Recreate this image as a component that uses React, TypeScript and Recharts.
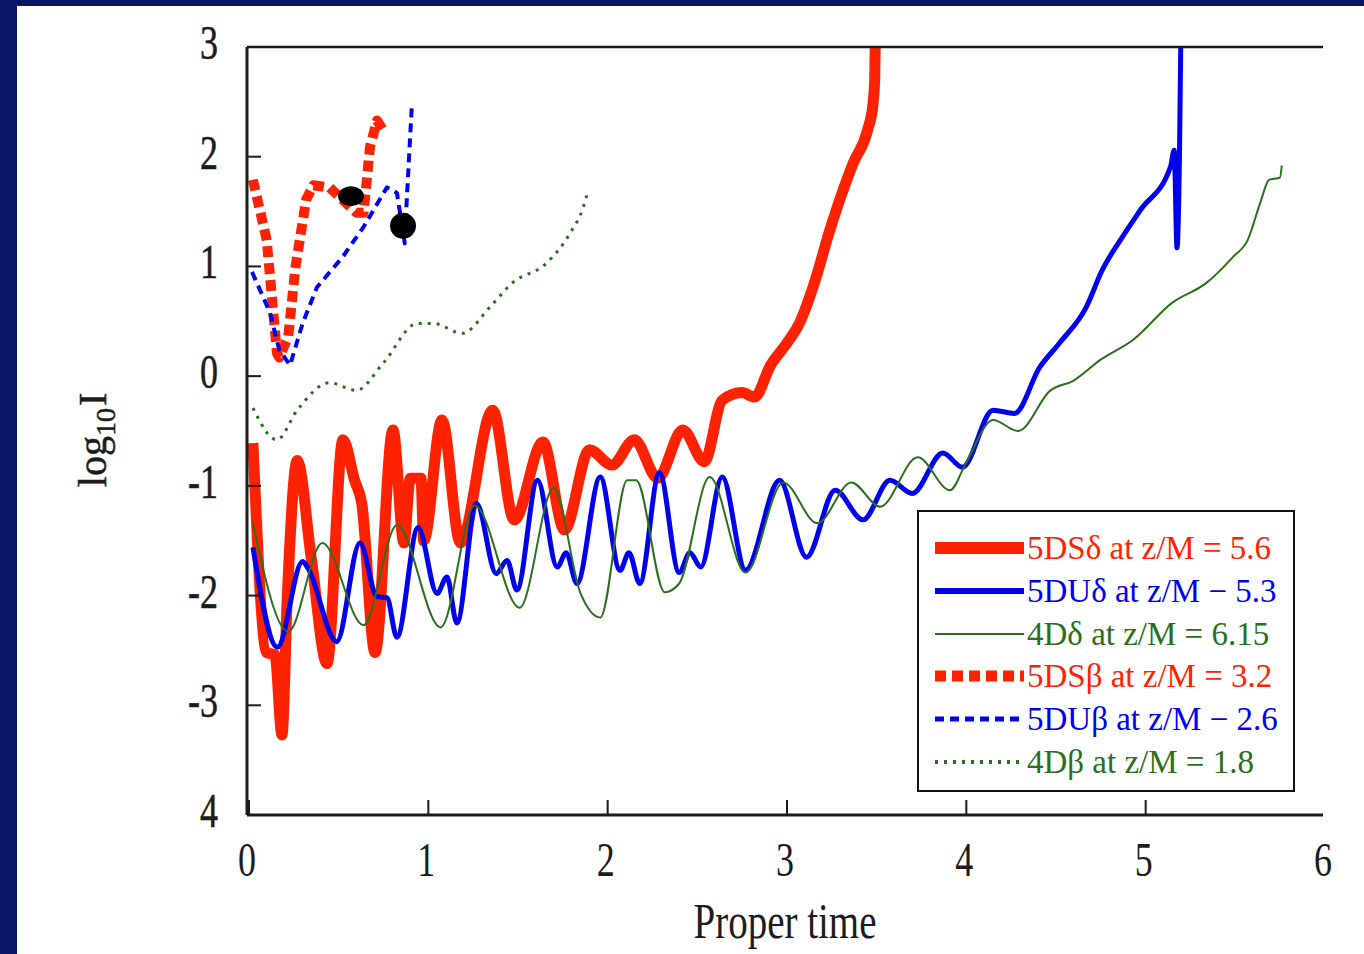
import { ComposedChart, Line, Scatter, XAxis, YAxis } from 'recharts'

const NAVY = '#0b1766'
const RED = '#ff2200'
const BLUE = '#0000ee'
const GREEN = '#2b6e1e'
const INK = '#1c1c1c'
const SERIF = '"Liberation Serif", "DejaVu Serif", serif'

const xTicks = [0, 1, 2, 3, 4, 5, 6]
const xTickLabels = ['0', '1', '2', '3', '4', '5', '6']
const yTicks = [-4, -3, -2, -1, 0, 1, 2, 3]
const yTickLabels = ['4', '-3', '-2', '-1', '0', '1', '2', '3']
const innerTicksX = [1, 2, 3, 4, 5]
const innerTicksY = [-3, -2, -1, 0, 1, 2]

// [proper time, log10 I]
const dsDelta: [number, number][] = [
  [0.033, -0.61], [0.11, -2.52], [0.156, -2.54], [0.195, -3.27], [0.225, -2.0],
  [0.28, -0.77], [0.36, -1.68], [0.446, -2.62], [0.535, -0.58], [0.6, -0.95],
  [0.64, -1.16], [0.714, -2.52], [0.814, -0.49], [0.875, -1.52], [0.91, -0.93],
  [0.97, -0.93], [0.985, -1.5], [1.087, -0.4], [1.19, -1.52], [1.37, -0.31],
  [1.49, -1.31], [1.65, -0.6], [1.77, -1.4], [1.91, -0.67], [2.035, -0.81],
  [2.16, -0.58], [2.29, -0.93], [2.43, -0.49], [2.55, -0.78], [2.65, -0.22],
  [2.76, -0.15], [2.83, -0.19], [2.92, 0.1], [3.01, 0.3], [3.08, 0.48],
  [3.16, 0.83], [3.25, 1.33], [3.31, 1.63], [3.38, 1.94], [3.46, 2.24],
  [3.49, 2.47], [3.5, 2.7], [3.505, 3.2],
]
const duDelta: [number, number][] = [
  [0.033, -1.56], [0.17, -2.47], [0.31, -1.69], [0.34, -1.75], [0.5, -2.42],
  [0.63, -1.52], [0.725, -2.01], [0.78, -2.02], [0.836, -2.38], [0.954, -1.38],
  [1.06, -1.98], [1.115, -1.83], [1.17, -2.25], [1.28, -1.16], [1.39, -1.8],
  [1.45, -1.68], [1.505, -1.95], [1.62, -0.95], [1.73, -1.74], [1.78, -1.61],
  [1.84, -1.89], [1.97, -0.92], [2.08, -1.77], [2.13, -1.61], [2.19, -1.89],
  [2.3, -0.88], [2.41, -1.79], [2.47, -1.61], [2.53, -1.74], [2.65, -0.92],
  [2.78, -1.77], [2.97, -0.95], [3.12, -1.65], [3.28, -1.04], [3.435, -1.31],
  [3.585, -0.95], [3.71, -1.07], [3.88, -0.7], [3.99, -0.83], [4.16, -0.31],
  [4.28, -0.34], [4.42, 0.08], [4.53, 0.3], [4.68, 0.63], [4.77, 0.97],
  [4.87, 1.24], [4.98, 1.51], [5.15, 1.91], [5.17, 2.06], [5.186, 1.17],
  [5.2, 2.06], [5.208, 3.2],
]
const fourDelta: [number, number][] = [
  [0.033, -1.34], [0.23, -2.33], [0.42, -1.52], [0.65, -2.27], [0.836, -1.36],
  [1.08, -2.29], [1.27, -1.18], [1.52, -2.11], [1.71, -1.02], [1.86, -1.98],
  [1.97, -2.2], [2.12, -0.95], [2.17, -0.95], [2.33, -1.97], [2.41, -1.89],
  [2.58, -0.92], [2.78, -1.79], [2.99, -0.97], [3.18, -1.34], [3.37, -0.97],
  [3.53, -1.19], [3.74, -0.74], [3.92, -1.04], [4.01, -0.79], [4.16, -0.4],
  [4.3, -0.5], [4.48, -0.13], [4.61, -0.04], [4.76, 0.15], [4.94, 0.33],
  [5.16, 0.67], [5.35, 0.85], [5.5, 1.09], [5.58, 1.24], [5.65, 1.58],
  [5.7, 1.79], [5.76, 1.81], [5.77, 1.92],
]
const dsBeta: [number, number][] = [
  [0.033, 1.79], [0.11, 1.24], [0.167, 0.21], [0.18, 0.17], [0.23, 0.36],
  [0.27, 0.99], [0.33, 1.61], [0.37, 1.74], [0.46, 1.72], [0.61, 1.49],
  [0.65, 1.49], [0.686, 2.09], [0.725, 2.33], [0.76, 2.24],
]
const duBeta: [number, number][] = [
  [0.028, 0.95], [0.128, 0.58], [0.18, 0.24], [0.24, 0.1], [0.31, 0.48],
  [0.39, 0.81], [0.535, 1.09], [0.65, 1.36], [0.78, 1.72], [0.836, 1.67],
  [0.88, 1.21], [0.89, 1.58], [0.92, 2.49],
]
const fourBeta: [number, number][] = [
  [0.033, -0.29], [0.167, -0.58], [0.28, -0.31], [0.46, -0.06], [0.61, -0.13],
  [0.76, 0.12], [0.95, 0.48], [1.04, 0.48], [1.2, 0.39], [1.355, 0.63],
  [1.48, 0.85], [1.67, 1.03], [1.8, 1.3], [1.875, 1.54], [1.9, 1.68],
]
const blackDots: [number, number][] = [[0.58, 1.64], [0.87, 1.37]]

const rows = (pts: [number, number][]) => pts.map(([t, v]) => ({ t, v }))

const series = [
  { name: '5DSδ at z/M = 5.6', pts: dsDelta, color: RED, width: 11, dash: undefined, curve: 'monotone' },
  { name: '5DSβ at z/M = 3.2', pts: dsBeta, color: RED, width: 10, dash: '11 6', curve: 'linear' },
  { name: '5DUδ at z/M − 5.3', pts: duDelta, color: BLUE, width: 5, dash: undefined, curve: 'monotone' },
  { name: '5DUβ at z/M − 2.6', pts: duBeta, color: BLUE, width: 4, dash: '9 6', curve: 'linear' },
  { name: '4Dδ at z/M = 6.15', pts: fourDelta, color: GREEN, width: 2, dash: undefined, curve: 'monotone' },
  { name: '4Dβ at z/M = 1.8', pts: fourBeta, color: GREEN, width: 3, dash: '3 6', curve: 'monotone' },
]
const legendOrder = [0, 2, 4, 1, 3, 5]

const stretch = 'scale(1,1.35)'

const LeftTick = (p: any) => {
  const i = yTicks.indexOf(p.payload.value)
  return (
    <g>
      <line x1={p.x} x2={p.x + 14} y1={p.y} y2={p.y} stroke={INK} strokeWidth={2} />
      <text transform={`translate(${p.x - 29},${p.y + 12}) ${stretch}`} textAnchor="end"
        fontFamily={SERIF} fontSize={36} fill={INK} stroke={INK} strokeWidth={0.4}>{yTickLabels[i]}</text>
    </g>
  )
}
const RightTick = (p: any) => (
  <line x1={p.x} x2={p.x - 15} y1={p.y} y2={p.y} stroke={INK} strokeWidth={2} />
)
const BottomTick = (p: any) => {
  const i = xTicks.indexOf(p.payload.value)
  return (
    <g>
      {p.payload.value < 6 && <line x1={p.x + 2} x2={p.x + 2} y1={p.y} y2={p.y - 15} stroke={INK} strokeWidth={2} />}
      <text transform={`translate(${p.x},${p.y + 61}) ${stretch}`} textAnchor="middle"
        fontFamily={SERIF} fontSize={36} fill={INK}>{xTickLabels[i]}</text>
    </g>
  )
}
const TopTick = (p: any) => (
  <line x1={p.x} x2={p.x} y1={p.y} y2={p.y + 12} stroke={INK} strokeWidth={2} />
)

const YLabel = () => (
  <text transform="rotate(-90, 106, 440)" x={106} y={440} textAnchor="middle"
    fontFamily={SERIF} fontSize={40} fill={INK} stroke={INK} strokeWidth={0.5}>
    log<tspan dy={9} fontSize={28}>10</tspan><tspan dy={-9} dx={2}>I</tspan>
  </text>
)

const Dot = (p: any) => (
  <ellipse cx={p.cx} cy={p.cy} rx={13} ry={p.index === 0 ? 10 : 13} fill="#000" />
)

export default function App() {
  return (
    <div style={{ position: 'fixed', left: 0, top: 0, width: 1364, height: 954, background: NAVY, overflow: 'hidden' }}>
      <div style={{ position: 'absolute', left: 17, top: 6, right: 0, bottom: 0, background: '#fff' }} />
      <div style={{ position: 'absolute', left: 0, top: 0 }}>
        <ComposedChart width={1364} height={954} margin={{ top: 46, right: 40, left: 187, bottom: 79 }}>
          <XAxis dataKey="t" type="number" domain={[0, 6]} ticks={xTicks} interval={0}
            allowDataOverflow height={60} tickSize={0} tickMargin={0} tickLine={false}
            axisLine={{ stroke: INK, strokeWidth: 3 }} tick={BottomTick} />
          <XAxis xAxisId="top" orientation="top" type="number" domain={[0, 6]} ticks={innerTicksX}
            interval={0} height={1} tickSize={0} tickMargin={0} tickLine={false}
            axisLine={{ stroke: INK, strokeWidth: 2.5 }} tick={TopTick} />
          <YAxis type="number" domain={[-4, 3]} ticks={yTicks} interval={0} allowDataOverflow
            width={60} tickSize={0} tickMargin={0} tickLine={false}
            axisLine={{ stroke: INK, strokeWidth: 3 }} tick={LeftTick} label={<YLabel />} />
          <YAxis yAxisId="right" orientation="right" type="number" domain={[-4, 3]} ticks={innerTicksY}
            interval={0} width={1} tickSize={0} tickMargin={0} tickLine={false} axisLine={false}
            tick={RightTick} />
          {series.map((s) => (
            <Line key={s.name} data={rows(s.pts)} dataKey="v" type={s.curve as any} stroke={s.color}
              strokeWidth={s.width} strokeDasharray={s.dash} strokeLinejoin="round"
              dot={false} activeDot={false} isAnimationActive={false} />
          ))}
          <Scatter data={rows(blackDots)} dataKey="v" shape={Dot} isAnimationActive={false} />
        </ComposedChart>
      </div>
      <div style={{
        position: 'absolute', left: 917, top: 510, width: 374, height: 278,
        border: '2px solid #111', background: '#fff',
      }}>
        {legendOrder.map((k, r) => {
          const s = series[k]
          return (
            <div key={s.name} style={{ position: 'absolute', left: 0, top: 16 + r * 42.8, height: 40, width: 374 }}>
              <svg width={100} height={40} style={{ position: 'absolute', left: 14, top: 0 }}>
                <line x1={2} x2={91} y1={20} y2={20} stroke={s.color}
                  strokeWidth={s.width === 2 ? 2 : s.width + 1} strokeDasharray={s.dash} />
              </svg>
              <span style={{
                position: 'absolute', left: 108, top: 0, lineHeight: '40px',
                fontFamily: SERIF, fontSize: 33, color: s.color, whiteSpace: 'nowrap',
              }}>{s.name}</span>
            </div>
          )
        })}
      </div>
      <div style={{
        position: 'absolute', left: 0, width: 1570, top: 898, textAlign: 'center',
        fontFamily: SERIF, fontSize: 39, color: INK, transform: 'scaleY(1.3)',
      }}>Proper time</div>
    </div>
  )
}
